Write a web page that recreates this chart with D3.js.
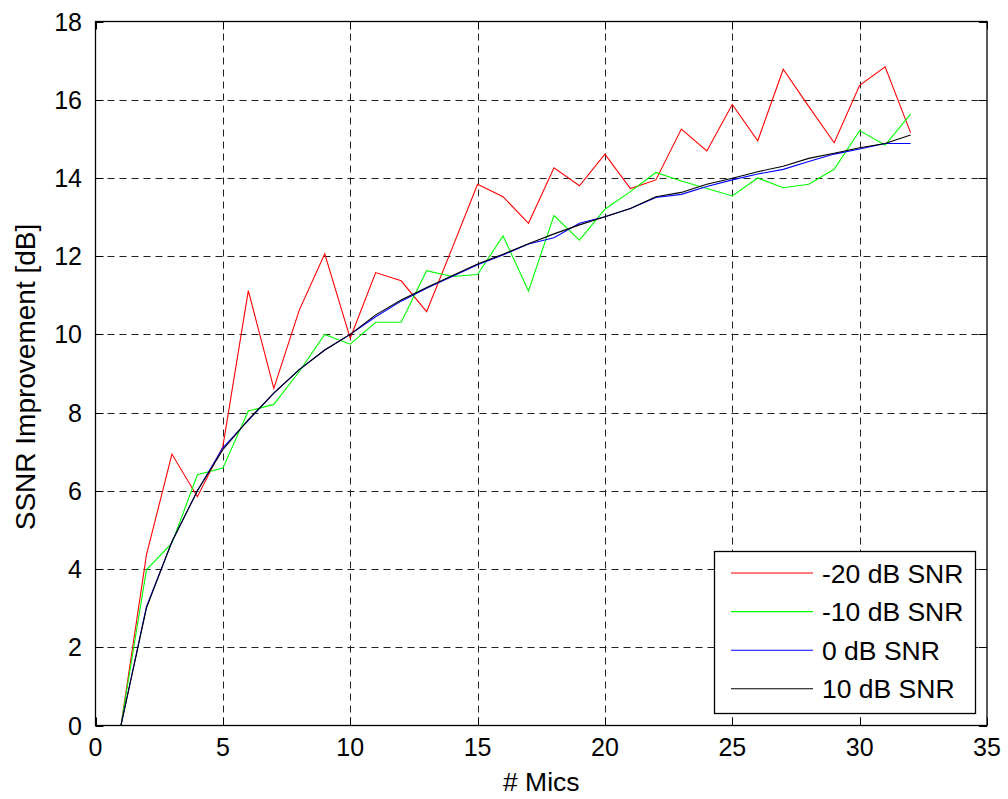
<!DOCTYPE html>
<html><head><meta charset="utf-8">
<script src="https://cdn.jsdelivr.net/npm/d3@7/dist/d3.min.js"></script>
<style>body{margin:0;background:#fff;} svg{display:block;font-family:"Liberation Sans",Arial,sans-serif;}</style>
</head><body>
<svg id="c" width="1008" height="799"></svg>
<script>
const mics = d3.range(1, 33);
const snrM20 = [0,4.36,6.94,5.85,7.13,11.12,8.62,10.62,12.06,9.9,11.58,11.37,10.58,12.2,13.84,13.52,12.84,14.26,13.8,14.61,13.73,13.95,15.25,14.69,15.88,14.95,16.78,15.83,14.9,16.37,16.84,15.16];
const snrM10 = [0,3.98,4.66,6.41,6.58,8.04,8.21,9.05,10.0,9.75,10.31,10.31,11.63,11.48,11.53,12.52,11.11,13.04,12.41,13.2,13.65,14.14,13.92,13.73,13.54,14.0,13.75,13.84,14.22,15.21,14.84,15.63];
const snr0 = [0,3.04,4.70,6.0,7.1,7.8,8.5,9.1,9.6,10.0,10.45,10.85,11.18,11.48,11.78,12.03,12.31,12.47,12.84,13.01,13.22,13.5,13.58,13.78,13.95,14.1,14.22,14.42,14.61,14.74,14.88,14.88];
const snr10 = [0,3.0,4.7,6.0,7.05,7.82,8.5,9.1,9.6,10.0,10.5,10.88,11.2,11.5,11.8,12.05,12.32,12.57,12.8,13.01,13.22,13.52,13.63,13.84,13.99,14.16,14.3,14.5,14.63,14.77,14.88,15.1];
const seriesNames = ["-20 dB SNR","-10 dB SNR","0 dB SNR","10 dB SNR"];
const seriesColors = ["#ff0000","#00ff00","#0000ff","#000000"];
const xTicks = [0,5,10,15,20,25,30,35];
const yTicks = [0,2,4,6,8,10,12,14,16,18];
const xLabel = "# Mics";
const yLabel = "SSNR Improvement [dB]";

const allSeries = [snrM20, snrM10, snr0, snr10];
const svg = d3.select("#c");
const L = 95.5, R = 987, T = 21.5, B = 725.5;
const x = d3.scaleLinear().domain([0,35]).range([L,R]);
const y = d3.scaleLinear().domain([0,18]).range([B,T]);
const fs = 25;

// grid
const g = svg.append("g");
g.selectAll("line.vx").data(xTicks.filter(d=>d>0&&d<35)).enter().append("line")
  .attr("x1",d=>Math.round(x(d))+0.5).attr("x2",d=>Math.round(x(d))+0.5).attr("y1",T).attr("y2",B)
  .attr("stroke","#222").attr("stroke-dasharray","7,5").attr("stroke-width",1);
g.selectAll("line.hy").data(yTicks.filter(d=>d>0&&d<18)).enter().append("line")
  .attr("y1",d=>Math.round(y(d))+0.5).attr("y2",d=>Math.round(y(d))+0.5).attr("x1",L).attr("x2",R)
  .attr("stroke","#222").attr("stroke-dasharray","7,5").attr("stroke-width",1);

// lines
const line = d3.line().x((d,i)=>x(mics[i])).y(d=>y(d));
allSeries.forEach((s,k)=>{
  svg.append("path").datum(s).attr("d",line).attr("fill","none")
    .attr("stroke",seriesColors[k]).attr("stroke-width",1.1);
});

// frame
svg.append("rect").attr("x",L).attr("y",T).attr("width",R-L).attr("height",B-T)
  .attr("fill","none").attr("stroke","#000").attr("stroke-width",1.3);

// axes with inward ticks
const tl = 8;
const ax = svg.append("g").attr("stroke","#000").attr("stroke-width",1);
xTicks.forEach(d=>{
  const px = Math.round(x(d))+0.5;
  ax.append("line").attr("x1",px).attr("x2",px).attr("y1",B).attr("y2",B-tl);
  ax.append("line").attr("x1",px).attr("x2",px).attr("y1",T).attr("y2",T+tl);
});
yTicks.forEach(d=>{
  const py = Math.round(y(d))+0.5;
  ax.append("line").attr("y1",py).attr("y2",py).attr("x1",L).attr("x2",L+tl);
  ax.append("line").attr("y1",py).attr("y2",py).attr("x1",R).attr("x2",R-tl);
});
svg.append("g").selectAll("text").data(xTicks).enter().append("text")
  .attr("x",d=>x(d)).attr("y",756).attr("text-anchor","middle").attr("font-size",fs).text(d=>d);
svg.append("g").selectAll("text").data(yTicks).enter().append("text")
  .attr("x",82).attr("y",d=>y(d)).attr("dy","0.36em").attr("text-anchor","end").attr("font-size",fs).text(d=>d);

svg.append("text").attr("x",(L+R)/2).attr("y",791).attr("text-anchor","middle").attr("font-size",26.5).text(xLabel);
svg.append("text").attr("transform",`translate(35,377) rotate(-90)`).attr("text-anchor","middle").attr("font-size",28).text(yLabel);

// legend
const lg = svg.append("g");
lg.append("rect").attr("x",714.5).attr("y",551.5).attr("width",261).attr("height",162)
  .attr("fill","#fff").attr("stroke","#000").attr("stroke-width",1.3);
seriesNames.forEach((n,k)=>{
  const ry = 573 + k*38.6;
  lg.append("line").attr("x1",731).attr("x2",813).attr("y1",ry).attr("y2",ry)
    .attr("stroke",seriesColors[k]).attr("stroke-width",1.1);
  lg.append("text").attr("x",822).attr("y",ry).attr("dy","0.36em").attr("font-size",26.5).text(n);
});
</script>
</body></html>
